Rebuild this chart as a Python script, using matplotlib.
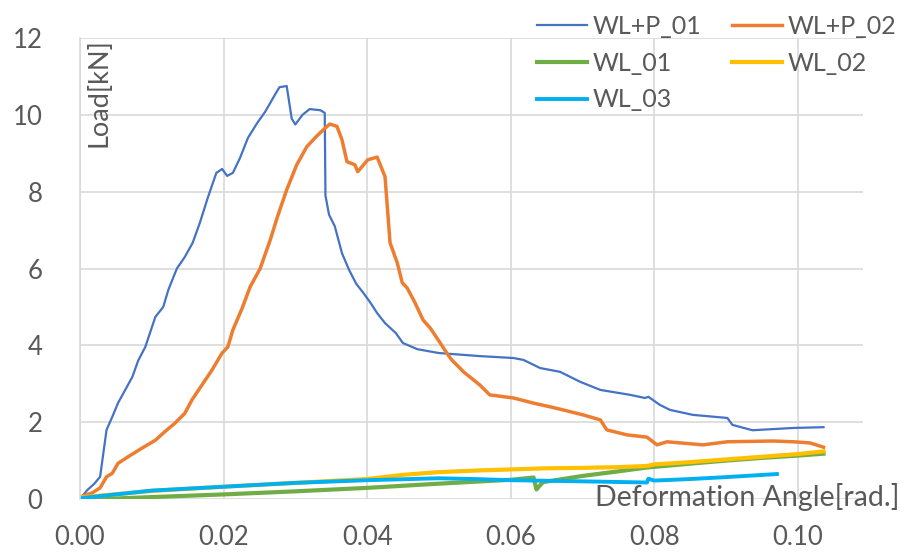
import matplotlib
matplotlib.use("Agg")
import matplotlib.pyplot as plt

# WL+P_01
p01_x = [0, 0.001, 0.002, 0.0028, 0.0037, 0.0045, 0.0053, 0.0063, 0.0073, 0.0081, 0.0091,
         0.0105, 0.0116, 0.0123, 0.0135, 0.0146, 0.0157, 0.0167, 0.0178, 0.019, 0.0198,
         0.0205, 0.0213, 0.0223, 0.0234, 0.0247, 0.0258, 0.0274, 0.0278, 0.0288, 0.0295,
         0.0300, 0.0310, 0.0320, 0.0335, 0.0341, 0.0342, 0.0347, 0.0355, 0.0365, 0.0375,
         0.0385, 0.0395, 0.0405, 0.0414, 0.0425, 0.0440, 0.0450, 0.0470, 0.0500, 0.0557,
         0.0604, 0.0618, 0.0641, 0.0669, 0.0697, 0.0725, 0.0767, 0.0787, 0.0792, 0.0808,
         0.0822, 0.0854, 0.0902, 0.0909, 0.0937, 0.0994, 0.1036]
p01_y = [0.0, 0.23, 0.4, 0.58, 1.8, 2.14, 2.5, 2.84, 3.18, 3.6, 3.96,
         4.74, 5.0, 5.44, 6.0, 6.3, 6.67, 7.19, 7.84, 8.49, 8.59,
         8.41, 8.49, 8.88, 9.4, 9.79, 10.08, 10.6, 10.72, 10.75, 9.9,
         9.75, 10.0, 10.15, 10.12, 10.05, 7.9, 7.4, 7.1, 6.4, 5.96,
         5.6, 5.36, 5.1, 4.84, 4.58, 4.32, 4.06, 3.9, 3.8, 3.72,
         3.67, 3.62, 3.41, 3.31, 3.05, 2.84, 2.71, 2.63, 2.66, 2.45,
         2.32, 2.19, 2.11, 1.93, 1.79, 1.85, 1.87]

# WL+P_02
p02_x = [0, 0.0017, 0.0028, 0.0037, 0.0045, 0.0053, 0.0067, 0.0086, 0.0105, 0.0118, 0.0132,
         0.0146, 0.0156, 0.017, 0.0184, 0.0198, 0.0206, 0.0213, 0.0226, 0.0237, 0.0251,
         0.0265, 0.0275, 0.0288, 0.0302, 0.0316, 0.0330, 0.0339, 0.0348, 0.0358, 0.0365,
         0.0372, 0.0383, 0.0387, 0.0401, 0.0414, 0.0425, 0.0432, 0.0442, 0.0449, 0.0456,
         0.0467, 0.0478, 0.0488, 0.0502, 0.0511, 0.0518, 0.0535, 0.0557, 0.0571, 0.0604,
         0.0631, 0.0655, 0.0673, 0.0701, 0.0725, 0.0734, 0.0762, 0.079, 0.0804, 0.0818,
         0.0868, 0.0902, 0.0966, 0.0994, 0.1017, 0.1036]
p02_y = [0.05, 0.16, 0.29, 0.58, 0.67, 0.93, 1.1, 1.32, 1.53, 1.75, 1.97,
         2.23, 2.58, 2.97, 3.36, 3.8, 3.96, 4.4, 4.97, 5.52, 6.0,
         6.74, 7.34, 8.05, 8.7, 9.17, 9.45, 9.61, 9.76, 9.7, 9.35,
         8.78, 8.7, 8.52, 8.83, 8.9, 8.39, 6.67, 6.15, 5.63, 5.49,
         5.1, 4.66, 4.45, 4.06, 3.8, 3.62, 3.3, 2.97, 2.71, 2.63,
         2.5, 2.4, 2.32, 2.19, 2.06, 1.8, 1.67, 1.61, 1.41, 1.49,
         1.41, 1.49, 1.51, 1.49, 1.46, 1.35]

# WL_01
wl01_x = [0, 0.01, 0.02, 0.03, 0.04, 0.05, 0.06, 0.0632, 0.0636, 0.0645, 0.07, 0.075,
          0.079, 0.085, 0.09, 0.095, 0.1, 0.1036]
wl01_y = [-0.02, 0.05, 0.12, 0.2, 0.29, 0.4, 0.5, 0.56, 0.25, 0.44, 0.6, 0.72,
          0.82, 0.92, 1.0, 1.07, 1.13, 1.18]

# WL_02
wl02_x = [0, 0.01, 0.02, 0.03, 0.04, 0.045, 0.05, 0.055, 0.06, 0.065, 0.07, 0.075,
          0.079, 0.08, 0.085, 0.09, 0.095, 0.1, 0.1036]
wl02_y = [0.04, 0.21, 0.32, 0.42, 0.52, 0.63, 0.7, 0.74, 0.77, 0.8, 0.81, 0.83,
          0.86, 0.9, 0.96, 1.03, 1.1, 1.17, 1.24]

# WL_03
wl03_x = [0, 0.01, 0.02, 0.03, 0.04, 0.05, 0.055, 0.06, 0.07, 0.079, 0.0792, 0.08,
          0.085, 0.09, 0.0971]
wl03_y = [0.02, 0.22, 0.32, 0.42, 0.49, 0.54, 0.52, 0.49, 0.46, 0.43, 0.53, 0.48,
          0.52, 0.57, 0.65]

txt = "#595959"
grid = "#D9D9D9"
plt.rcParams['font.family'] = ['Lato', 'DejaVu Sans']

fig = plt.figure(figsize=(9.05, 5.58), dpi=100)
ax = fig.add_axes([0.0884, 0.1057, 0.8652, 0.8262])

l1, = ax.plot(p01_x, p01_y, color="#4472C4", lw=1.6, label="WL+P_01")
l2, = ax.plot(p02_x, p02_y, color="#ED7D31", lw=2.5, label="WL+P_02")
l3, = ax.plot(wl01_x, wl01_y, color="#70AD47", lw=3.0, label="WL_01")
l4, = ax.plot(wl02_x, wl02_y, color="#FFC000", lw=3.0, label="WL_02")
l5, = ax.plot(wl03_x, wl03_y, color="#00B0F0", lw=2.8, label="WL_03")

ax.set_xlim(0, 0.1091)
ax.set_ylim(0, 12)
ax.set_xticks([0, 0.02, 0.04, 0.06, 0.08, 0.10])
ax.set_xticklabels(["0.00", "0.02", "0.04", "0.06", "0.08", "0.10"])
ax.set_yticks(range(0, 13, 2))
ax.grid(True, color=grid, lw=1.2)
ax.set_axisbelow(True)
for s in ["top", "right", "bottom"]:
    ax.spines[s].set_visible(False)
ax.spines["left"].set_color(grid)
ax.spines["left"].set_linewidth(1.2)
ax.tick_params(length=0, labelsize=18.5, labelcolor=txt)
ax.tick_params(axis='x', pad=19)
ax.tick_params(axis='y', pad=27)

ax.text(0.008, 1.0, "Load[kN]", rotation=90, transform=ax.transAxes,
        ha="left", va="top", fontsize=19.5, color=txt)
ax.text(1.047, 0.004, "Deformation Angle[rad.]", transform=ax.transAxes,
        ha="right", va="center", fontsize=20.5, color=txt)

ax.legend([l1, l3, l5, l2, l4], ["WL+P_01", "WL_01", "WL_03", "WL+P_02", "WL_02"],
          ncol=2, frameon=False, fontsize=18, labelcolor=txt,
          loc="upper right", bbox_to_anchor=(1.056, 1.072),
          handlelength=2.0, handletextpad=0.25, columnspacing=1.2,
          labelspacing=0.55, borderaxespad=0)

fig.savefig("out.png", dpi=100)
